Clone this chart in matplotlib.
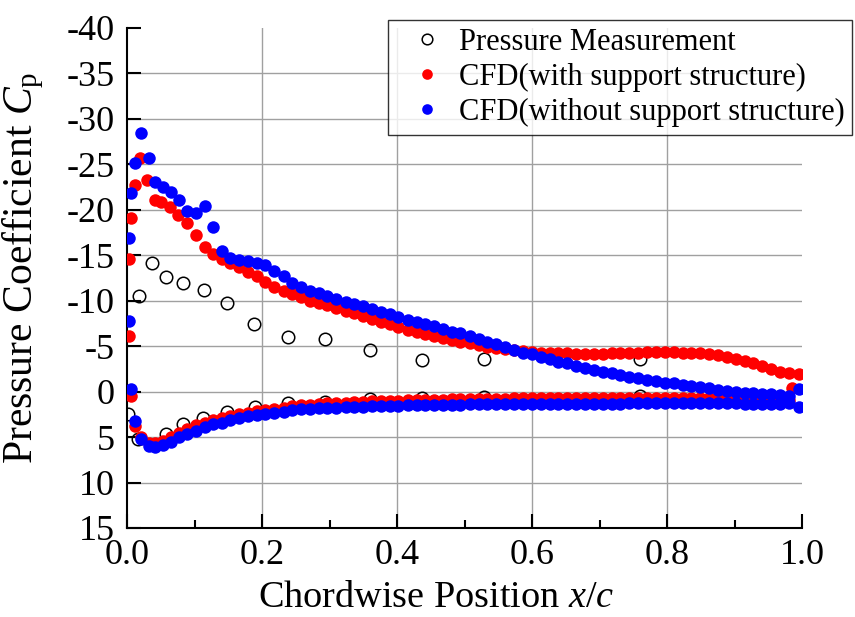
import matplotlib
matplotlib.use("Agg")
import matplotlib.pyplot as plt
from matplotlib.ticker import MultipleLocator

plt.rcParams.update({
    "font.family": "Liberation Serif",
    "mathtext.fontset": "custom",
    "mathtext.rm": "Liberation Serif",
    "mathtext.it": "Liberation Serif:italic",
    "axes.unicode_minus": False,
})

# ---- data ----
meas_x_up = [0.018, 0.037, 0.058, 0.083, 0.114, 0.148, 0.188, 0.239, 0.293, 0.360, 0.437, 0.529, 0.760]
meas_cp_up = [-10.5, -14.1, -12.6, -12.0, -11.2, -9.8, -7.4, -6.0, -5.8, -4.6, -3.5, -3.6, -3.6]
meas_x_lo = [0.002, 0.017, 0.058, 0.083, 0.113, 0.148, 0.189, 0.238, 0.293, 0.360, 0.437, 0.529, 0.760]
meas_cp_lo = [2.5, 5.2, 4.7, 3.6, 2.9, 2.2, 1.65, 1.3, 1.1, 0.8, 0.7, 0.6, 0.5]

# leading edge region
red_le_x_up = [0.0035, 0.0035, 0.006, 0.012, 0.019, 0.030, 0.041, 0.051, 0.064, 0.076, 0.089, 0.102, 0.116, 0.127]
red_le_cp_up = [-6.1, -14.6, -19.1, -22.7, -25.7, -23.3, -21.1, -20.9, -20.3, -19.4, -18.6, -17.2, -15.9, -15.1]
red_le_x_lo = [0.006, 0.012, 0.020, 0.032, 0.041, 0.053, 0.065, 0.077, 0.089, 0.102, 0.116, 0.128]
red_le_cp_lo = [0.5, 3.75, 5.0, 5.6, 5.7, 5.4, 5.0, 4.5, 4.1, 3.7, 3.4, 3.1]

blue_le_x_up = [0.0035, 0.0035, 0.006, 0.012, 0.021, 0.032, 0.042, 0.053, 0.065, 0.077, 0.089, 0.102, 0.116, 0.128]
blue_le_cp_up = [-7.8, -16.9, -21.9, -25.2, -28.4, -25.7, -23.1, -22.5, -22.0, -21.1, -19.9, -19.6, -20.4, -18.1]
blue_le_x_lo = [0.006, 0.012, 0.020, 0.032, 0.041, 0.053, 0.065, 0.077, 0.089, 0.102, 0.116, 0.128]
blue_le_cp_lo = [-0.3, 3.2, 5.2, 5.95, 6.06, 5.85, 5.5, 5.0, 4.7, 4.3, 3.9, 3.6]

# main chord positions (shared by both CFD runs)
x_main = [0.140, 0.153, 0.166, 0.179, 0.192, 0.205, 0.218, 0.232, 0.245, 0.258,
          0.271, 0.284, 0.297, 0.310, 0.324, 0.337, 0.350, 0.363, 0.376, 0.389,
          0.402, 0.416, 0.429, 0.442, 0.455, 0.468, 0.481, 0.494, 0.508, 0.521,
          0.534, 0.547, 0.560, 0.573, 0.586, 0.600, 0.613, 0.626, 0.639, 0.652,
          0.665, 0.678, 0.692, 0.705, 0.718, 0.731, 0.744, 0.757, 0.770, 0.784,
          0.797, 0.810, 0.823, 0.836, 0.849, 0.862, 0.876, 0.889, 0.902, 0.915,
          0.928, 0.941, 0.954, 0.968, 0.981]

blue_cp_up = [-15.5, -14.7, -14.5, -14.4, -14.2, -13.9, -13.3, -12.7, -12.0, -11.5,
              -11.1, -10.8, -10.5, -10.2, -9.9, -9.6, -9.4, -9.1, -8.8, -8.5,
              -8.2, -7.9, -7.7, -7.4, -7.2, -6.9, -6.6, -6.4, -6.1, -5.8,
              -5.5, -5.2, -4.9, -4.6, -4.3, -4.1, -3.8, -3.6, -3.3, -3.1,
              -2.8, -2.6, -2.4, -2.2, -2.0, -1.8, -1.6, -1.5, -1.3, -1.2,
              -1.0, -0.9, -0.7, -0.6, -0.5, -0.4, -0.2, -0.1, 0.0, 0.1,
              0.2, 0.3, 0.3, 0.4, 0.5]
red_cp_up = [-14.6, -14.1, -13.7, -13.2, -12.7, -12.1, -11.5, -11.1, -10.7, -10.4,
             -10.0, -9.7, -9.5, -9.2, -8.9, -8.6, -8.3, -8.0, -7.7, -7.4,
             -7.1, -6.8, -6.6, -6.3, -6.1, -5.9, -5.7, -5.5, -5.3, -5.1,
             -4.9, -4.8, -4.7, -4.6, -4.5, -4.4, -4.3, -4.3, -4.2, -4.2,
             -4.1, -4.1, -4.1, -4.1, -4.2, -4.2, -4.3, -4.3, -4.4, -4.4,
             -4.4, -4.4, -4.3, -4.3, -4.2, -4.1, -4.0, -3.8, -3.6, -3.4,
             -3.1, -2.8, -2.5, -2.2, -2.0]
blue_cp_lo = [3.4, 3.1, 2.9, 2.7, 2.6, 2.5, 2.3, 2.2, 2.05, 1.95,
              1.9, 1.85, 1.8, 1.75, 1.7, 1.7, 1.65, 1.6, 1.6, 1.55,
              1.55, 1.5, 1.5, 1.5, 1.45, 1.45, 1.45, 1.45, 1.4, 1.4,
              1.4, 1.4, 1.4, 1.4, 1.4, 1.4, 1.4, 1.4, 1.4, 1.35,
              1.35, 1.35, 1.35, 1.35, 1.35, 1.35, 1.3, 1.3, 1.3, 1.3,
              1.3, 1.3, 1.3, 1.3, 1.3, 1.3, 1.3, 1.3, 1.3, 1.35,
              1.35, 1.4, 1.4, 1.4, 1.3]
red_cp_lo = [2.9, 2.7, 2.5, 2.3, 2.15, 2.0, 1.9, 1.75, 1.6, 1.5,
             1.45, 1.4, 1.3, 1.25, 1.2, 1.15, 1.1, 1.05, 1.05, 1.0,
             1.0, 0.95, 0.95, 0.9, 0.9, 0.9, 0.85, 0.85, 0.85, 0.8,
             0.8, 0.8, 0.8, 0.75, 0.75, 0.75, 0.75, 0.7, 0.7, 0.7,
             0.7, 0.7, 0.7, 0.7, 0.7, 0.7, 0.7, 0.7, 0.7, 0.7,
             0.7, 0.7, 0.7, 0.7, 0.7, 0.7, 0.7, 0.7, 0.75, 0.75,
             0.75, 0.8, 0.8, 0.85, 0.9]

# trailing edge
red_te_x = [0.985, 0.996]
red_te_cp = [-0.4, -1.9]
blue_te_x = [0.996, 0.996]
blue_te_cp = [-0.3, 1.7]

RED = "#ff0000"
BLUE = "#0000ff"

fig = plt.figure(figsize=(8.55, 6.17), dpi=100)
ax = fig.add_axes([127 / 855, 1 - 528 / 617, 675 / 855, 500 / 617])

ms = 9
ax.plot(meas_x_up + meas_x_lo, meas_cp_up + meas_cp_lo, "o", ms=ms, mfc="none",
        mec="black", mew=1.1, zorder=3, label="Pressure Measurement")
ax.plot(red_le_x_up + x_main + red_le_x_lo + x_main + red_te_x,
        red_le_cp_up + red_cp_up + red_le_cp_lo + red_cp_lo + red_te_cp,
        "o", ms=ms, color=RED, mew=0, zorder=4, label="CFD(with support structure)")
ax.plot(blue_le_x_up + x_main + blue_le_x_lo + x_main + blue_te_x,
        blue_le_cp_up + blue_cp_up + blue_le_cp_lo + blue_cp_lo + blue_te_cp,
        "o", ms=ms, color=BLUE, mew=0, zorder=5, label="CFD(without support structure)")

ax.set_xlim(0, 1)
ax.set_ylim(15, -40)
ax.set_xticks([0, 0.2, 0.4, 0.6, 0.8, 1.0])
ax.set_xticklabels(["0.0", "0.2", "0.4", "0.6", "0.8", "1.0"])
ax.xaxis.set_minor_locator(MultipleLocator(0.1))
ax.set_yticks(list(range(-40, 16, 5)))

ax.tick_params(which="major", direction="in", length=10, width=1.5, labelsize=26, pad=8)
ax.tick_params(which="minor", direction="in", length=6, width=1.5)
ax.tick_params(axis="y", pad=9)
for s in ["top", "right"]:
    ax.spines[s].set_visible(False)
for s in ["left", "bottom"]:
    ax.spines[s].set_linewidth(1.5)

ax.grid(True, which="major", color="#a0a0a0", linewidth=1.0)
ax.set_axisbelow(True)
for tick, v in zip(ax.yaxis.get_major_ticks(), ax.get_yticks()):
    if v == -40:
        tick.gridline.set_visible(False)
for tick, v in zip(ax.xaxis.get_major_ticks(), ax.get_xticks()):
    if v in (0, 1.0):
        tick.gridline.set_visible(False)

ax.set_xlabel("Chordwise Position $x/c$", fontsize=27.5)
ax.xaxis.set_label_coords(0.458, -0.105)
ax.set_ylabel("Pressure Coefficient $C_\\mathrm{p}$", fontsize=30)
ax.yaxis.set_label_coords(-0.12, 0.52)

leg = ax.legend(loc="upper right", bbox_to_anchor=(852 / 855, 1 - 20 / 617),
                bbox_transform=fig.transFigure, fontsize=22, frameon=True,
                fancybox=False, edgecolor="black", borderaxespad=0,
                handletextpad=0.05, labelspacing=0.2, borderpad=0.25,
                handlelength=2.0, markerscale=0.85)
leg.get_frame().set_linewidth(1.0)

fig.savefig("out.png", dpi=100)
